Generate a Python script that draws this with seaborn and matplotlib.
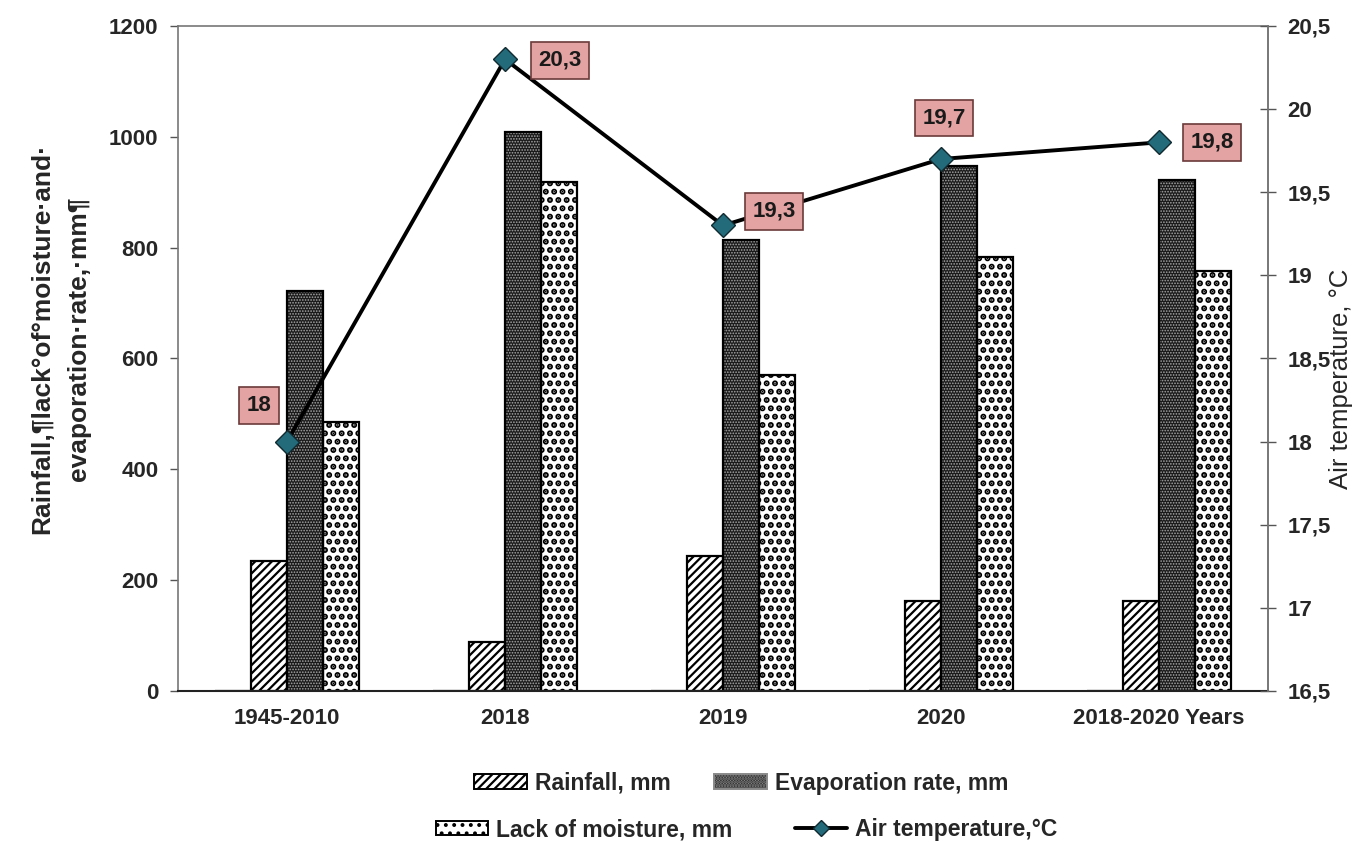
import numpy as np
import pandas as pd
import matplotlib
matplotlib.use('Agg')
import matplotlib.pyplot as plt
import seaborn as sns
from matplotlib.patches import Rectangle, Patch
from matplotlib.lines import Line2D
from matplotlib.ticker import FuncFormatter, MultipleLocator

# data
periods = ['1945-2010', '2018', '2019', '2020', '2018-2020 Years']
blank = [0, 0, 0, 0, 0]
rainfall = [235, 88, 243, 163, 163]
evaporation = [722, 1008, 813, 948, 922]
lack = [486, 918, 570, 783, 758]
air_temp = [18.0, 20.3, 19.3, 19.7, 19.8]
temp_labels = ['18', '20,3', '19,3', '19,7', '19,8']

series = ['blank', 'Rainfall, mm', 'Evaporation rate, mm', 'Lack of moisture, mm']
df = pd.DataFrame({
    'period': periods * 4,
    'series': np.repeat(series, len(periods)),
    'value': blank + rainfall + evaporation + lack,
})

sns.set_style('white')
plt.rcParams['font.family'] = ['Liberation Sans', 'DejaVu Sans']
plt.rcParams['hatch.linewidth'] = 1.6

fig = plt.figure(figsize=(13.55, 8.44), dpi=100)
ax = fig.add_axes([0.1314, 0.1813, 0.8044, 0.7879])

sns.barplot(data=df, x='period', y='value', hue='series', hue_order=series,
            width=0.66, gap=0, legend=False, ax=ax, saturation=1)


def hatch_lw(p, w):
    if hasattr(p, 'set_hatch_linewidth'):
        p.set_hatch_linewidth(w)


for i, cont in enumerate(ax.containers):
    for p in cont:
        if i == 2:
            # dark bar with small light dots, outline drawn separately
            p.set_facecolor('#1a1a1a')
            p.set_edgecolor('#a8a8a8')
            p.set_linewidth(0)
            p.set_hatch('......')
            hatch_lw(p, 0.8)
            ax.add_patch(Rectangle(p.get_xy(), p.get_width(), p.get_height(),
                                   fill=False, ec='black', lw=1.6, zorder=p.get_zorder()))
        else:
            p.set_facecolor('white')
            p.set_edgecolor('black')
            p.set_linewidth(1.6)
            if i == 1:
                p.set_hatch('////')
            elif i == 3:
                p.set_hatch('..')
                hatch_lw(p, 3.0)

ax.set_ylim(0, 1200)
ax.set_xlim(-0.5, len(periods) - 0.5)
ax.yaxis.set_major_locator(MultipleLocator(200))
ax.set_xlabel('')
ax.set_ylabel('Rainfall,¶lack°of°moisture·and·\nevaporation·rate,·mm¶',
              fontsize=19, fontweight='bold', linespacing=1.65)
ax.yaxis.set_label_coords(-0.08, 0.53)
ax.tick_params(axis='y', labelsize=16, length=6, color='#555555', width=1, direction='out', pad=8)
ax.tick_params(axis='x', which='major', length=0, labelsize=16, pad=12)
ax.set_xticks(np.arange(-0.5, len(periods), 1.0), minor=True)
ax.tick_params(axis='x', which='minor', length=9, color='#555555', width=1, direction='out')
for lab in ax.get_xticklabels() + ax.get_yticklabels():
    lab.set_fontweight('bold')
for side in ['left', 'top', 'right']:
    ax.spines[side].set_color('#777777')
    ax.spines[side].set_linewidth(1.2)
ax.spines['bottom'].set_color('#222222')
ax.spines['bottom'].set_linewidth(1.5)

ax2 = ax.twinx()
sns.lineplot(x=np.arange(len(periods)), y=air_temp, ax=ax2, color='black', lw=2.8,
             marker='D', markersize=12, markerfacecolor='#236b7a',
             markeredgecolor='#102a30', markeredgewidth=1.0)
ax2.set_ylim(16.5, 20.5)
ax2.yaxis.set_major_locator(MultipleLocator(0.5))
ax2.yaxis.set_major_formatter(FuncFormatter(lambda v, pos: f'{v:g}'.replace('.', ',')))
ax2.tick_params(axis='y', labelsize=16, length=12, direction='inout', color='#555555', width=1, pad=8)
for lab in ax2.get_yticklabels():
    lab.set_fontweight('bold')
ax2.set_ylabel('Air temperature, °C', fontsize=18.5)
ax2.yaxis.set_label_coords(1.056, 0.47)
for side in ['left', 'top', 'right', 'bottom']:
    ax2.spines[side].set_visible(False)
ax2.spines['right'].set_visible(True)
ax2.spines['right'].set_color('#777777')
ax2.spines['right'].set_linewidth(1.2)

offsets = [(-28, 36), (55, -1), (51, 14), (3, 41), (53, 0)]
for i, (t, lab) in enumerate(zip(air_temp, temp_labels)):
    ax2.annotate(lab, (i, t), xytext=offsets[i], textcoords='offset pixels',
                 ha='center', va='center', fontsize=16, fontweight='bold', color='#1a1a1a',
                 bbox=dict(boxstyle='square,pad=0.35', fc='#e3a3a3', ec='#6b3a3a', lw=1.2))

h_rain = Patch(fc='white', ec='black', hatch='////', lw=1.4)
h_evap = Patch(fc='#1a1a1a', ec='#8a8a8a', hatch='......', lw=1.4)
h_lack = Patch(fc='white', ec='black', hatch='..', lw=1.4)
hatch_lw(h_lack, 2.4)
h_temp = Line2D([], [], color='black', lw=2.8, marker='D', markersize=8,
                markerfacecolor='#236b7a', markeredgecolor='#102a30')
leg_kw = dict(ncol=2, frameon=False, prop={'size': 16.5, 'weight': 'bold'},
              handlelength=2.3, handleheight=0.6, handletextpad=0.35)
leg1 = fig.legend([h_rain, h_evap], ['Rainfall, mm', 'Evaporation rate, mm'],
                  loc='center', bbox_to_anchor=(0.547, 0.072), columnspacing=1.9, **leg_kw)
leg2 = fig.legend([h_lack, h_temp], ['Lack of moisture, mm', 'Air temperature,°C'],
                  loc='center', bbox_to_anchor=(0.551, 0.017), columnspacing=2.7, **leg_kw)

fig.savefig('out.png', dpi=100)
